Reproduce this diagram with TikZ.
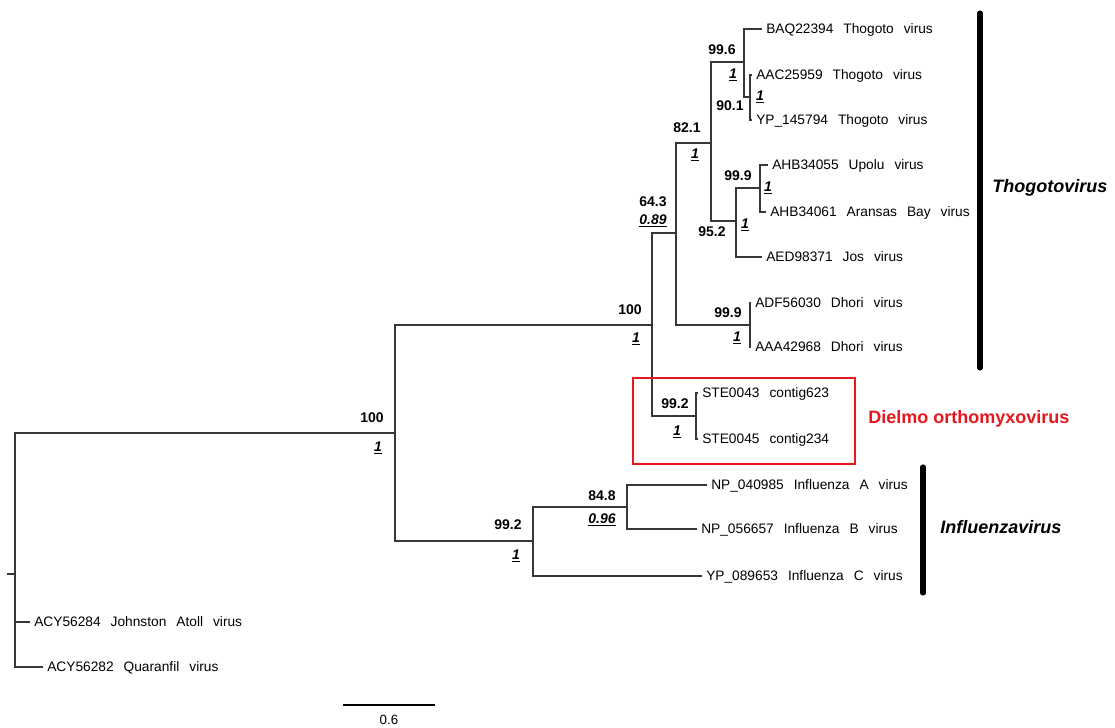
\documentclass[tikz,border=0pt]{standalone}
\usepackage{fontspec}
\setmainfont{Liberation Sans}
\definecolor{dielmored}{RGB}{232,22,30}
\definecolor{treegray}{RGB}{55,55,55}

\begin{document}
\begin{tikzpicture}[
    x=0.75pt, y=-0.75pt,
    % Styles
    branch/.style={treegray, line width=1.1pt},
    tip/.style={anchor=west, inner xsep=3pt, inner ysep=0pt, text height=7.3pt, text depth=0pt,
        font={\fontsize{10.3}{12}\selectfont\spaceskip=7.5pt\relax}},
    boot/.style={inner sep=0pt, font={\fontsize{10.5}{12}\selectfont\bfseries}},
    post/.style={inner sep=0pt, font={\fontsize{10.5}{12}\selectfont\bfseries\itshape}},
    clade_bar/.style={line width=3.8pt, line cap=round},
    clade_name/.style={anchor=west, inner sep=0pt, font={\fontsize{13.5}{16}\selectfont\bfseries\itshape}}
]

    \useasboundingbox (0,0) rectangle (1115,728);

    % ==========================================
    % 1. INTERNAL NODES
    % ==========================================
    \coordinate (rstub) at (7,574);
    \coordinate (root) at (15,574);
    \coordinate (nOrtho) at (395,433);
    \coordinate (nThoD) at (652,325);
    \coordinate (nThog) at (676,233);
    \coordinate (nTho) at (711,143);
    \coordinate (nTho1) at (744,62);
    \coordinate (nTho2) at (750,97);
    \coordinate (nUpo) at (736,221);
    \coordinate (nUpo1) at (760,188);
    \coordinate (nDho) at (750,325);
    \coordinate (nSTE) at (696,416);
    \coordinate (nInf) at (533,541);
    \coordinate (nInfAB) at (627,507);

    % ==========================================
    % 2. TIPS
    % ==========================================
    \node[tip] (tBAQ) at (762,29) {BAQ22394 Thogoto virus};
    \node[tip] (tAAC) at (752,75) {AAC25959 Thogoto virus};
    \node[tip] (tYP1) at (752,120) {YP\_145794 Thogoto virus};
    \node[tip] (tAHB1) at (768,165) {AHB34055 Upolu virus};
    \node[tip] (tAHB2) at (766,212) {AHB34061 Aransas Bay virus};
    \node[tip] (tAED) at (762,257) {AED98371 Jos virus};
    \node[tip] (tADF) at (751,303) {ADF56030 Dhori virus};
    \node[tip] (tAAA) at (751,347) {AAA42968 Dhori virus};
    \node[tip] (tSTE1) at (698,393) {STE0043 contig623};
    \node[tip] (tSTE2) at (698,439) {STE0045 contig234};
    \node[tip] (tInfA) at (707,485) {NP\_040985 Influenza A virus};
    \node[tip] (tInfB) at (697,529) {NP\_056657 Influenza B virus};
    \node[tip] (tInfC) at (702,576) {YP\_089653 Influenza C virus};
    \node[tip] (tJoh) at (30,622) {ACY56284 Johnston Atoll virus};
    \node[tip] (tQua) at (43,667) {ACY56282 Quaranfil virus};

    % ==========================================
    % 3. BRANCHES
    % ==========================================
    \draw[branch] (rstub) -- (root);
    \draw[branch] (root) |- (nOrtho);
    \draw[branch] (root) |- (tJoh.west);
    \draw[branch] (root) |- (tQua.west);

    \draw[branch] (nOrtho) |- (nThoD);
    \draw[branch] (nOrtho) |- (nInf);

    \draw[branch] (nThoD) |- (nThog);
    \draw[branch] (nThoD) |- (nSTE);
    \draw[branch] (nThog) |- (nTho);
    \draw[branch] (nThog) |- (nDho);
    \draw[branch] (nTho) |- (nTho1);
    \draw[branch] (nTho) |- (nUpo);
    \draw[branch] (nTho1) |- (tBAQ.west);
    \draw[branch] (nTho1) |- (nTho2);
    \draw[branch] (nTho2) |- (tAAC.west);
    \draw[branch] (nTho2) |- (tYP1.west);
    \draw[branch] (nUpo) |- (nUpo1);
    \draw[branch] (nUpo) |- (tAED.west);
    \draw[branch] (nUpo1) |- (tAHB1.west);
    \draw[branch] (nUpo1) |- (tAHB2.west);
    \draw[branch] (nDho) |- (tADF.west);
    \draw[branch] (nDho) |- (tAAA.west);
    \draw[branch] (nSTE) |- (tSTE1.west);
    \draw[branch] (nSTE) |- (tSTE2.west);

    \draw[branch] (nInf) |- (nInfAB);
    \draw[branch] (nInf) |- (tInfC.west);
    \draw[branch] (nInfAB) |- (tInfA.west);
    \draw[branch] (nInfAB) |- (tInfB.west);

    % ==========================================
    % 4. SUPPORT VALUES (bootstrap / posterior)
    % ==========================================
    \node[boot] (bOrtho) at (372,418) {100};
    \node[post] (pOrtho) at (378,448) {\underline{1}};
    \node[boot] (bThoD) at (630,310) {100};
    \node[post] (pThoD) at (636,339) {\underline{1}};
    \node[boot] (bThog) at (653,202) {64.3};
    \node[post] (pThog) at (653,221) {\underline{0.89}};
    \node[boot] (bTho) at (687,128) {82.1};
    \node[post] (pTho) at (695,155) {\underline{1}};
    \node[boot] (bTho1) at (722,50) {99.6};
    \node[post] (pTho1) at (733,75) {\underline{1}};
    \node[boot] (bTho2) at (730,106) {90.1};
    \node[post] (pTho2) at (760,97) {\underline{1}};
    \node[boot] (bUpo1) at (738,176) {99.9};
    \node[post] (pUpo1) at (768,188) {\underline{1}};
    \node[boot] (bUpo) at (712,232) {95.2};
    \node[post] (pUpo) at (745,225) {\underline{1}};
    \node[boot] (bDho) at (728,313) {99.9};
    \node[post] (pDho) at (737,338) {\underline{1}};
    \node[boot] (bSTE) at (675,404) {99.2};
    \node[post] (pSTE) at (677,432) {\underline{1}};
    \node[boot] (bInfAB) at (602,496) {84.8};
    \node[post] (pInfAB) at (602,520) {\underline{0.96}};
    \node[boot] (bInf) at (508,525) {99.2};
    \node[post] (pInf) at (516,556) {\underline{1}};

    % ==========================================
    % 5. CLADES
    % ==========================================
    \draw[clade_bar] (980,13) -- (980,368);
    \node[clade_name] (cTho) at (992,188) {Thogotovirus};
    \draw[clade_bar] (923,467) -- (923,593);
    \node[clade_name] (cInf) at (940,527) {Influenzavirus};

    % Dielmo box
    \draw[dielmored, line width=2.2pt] (633,378) rectangle (855,464);
    \node[anchor=west, inner sep=0pt, text=dielmored, font={\fontsize{13.5}{16}\selectfont\bfseries}]
        (cDie) at (868,419) {Dielmo orthomyxovirus};

    % ==========================================
    % 6. SCALE BAR
    % ==========================================
    \draw[line width=1.5pt] (343,705) -- (435,705) node[midway, below=7pt, inner sep=0pt, font={\fontsize{10}{12}\selectfont}] (scale) {0.6};

\end{tikzpicture}
\end{document}
